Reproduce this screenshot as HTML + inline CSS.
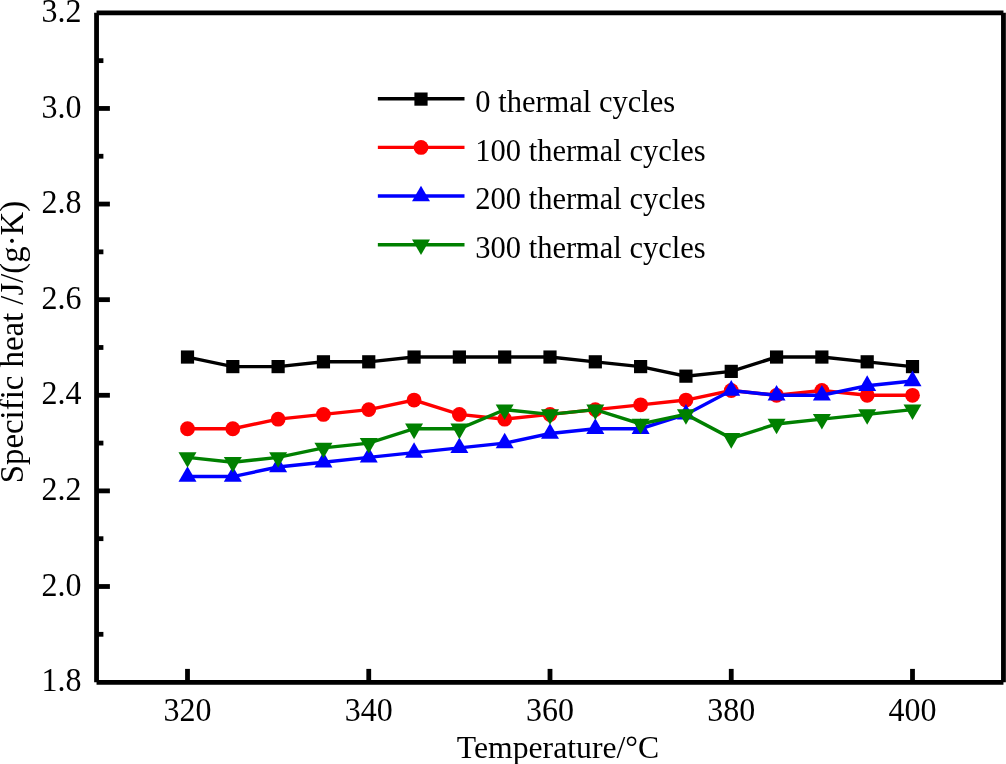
<!DOCTYPE html>
<html><head><meta charset="utf-8"><style>
html,body{margin:0;padding:0;background:#fff;}
svg{display:block;will-change:transform;}
text{font-family:"Liberation Serif",serif;font-size:32px;fill:#000;}
</style></head><body>
<svg width="1006" height="764" viewBox="0 0 1006 764">
<line x1="187.50" y1="682.3" x2="187.50" y2="668.9" stroke="#000" stroke-width="4.8"/>
<text transform="translate(187.50,720.7) scale(1,1.07)" text-anchor="middle">320</text>
<line x1="368.75" y1="682.3" x2="368.75" y2="668.9" stroke="#000" stroke-width="4.8"/>
<text transform="translate(368.75,720.7) scale(1,1.07)" text-anchor="middle">340</text>
<line x1="550.00" y1="682.3" x2="550.00" y2="668.9" stroke="#000" stroke-width="4.8"/>
<text transform="translate(550.00,720.7) scale(1,1.07)" text-anchor="middle">360</text>
<line x1="731.25" y1="682.3" x2="731.25" y2="668.9" stroke="#000" stroke-width="4.8"/>
<text transform="translate(731.25,720.7) scale(1,1.07)" text-anchor="middle">380</text>
<line x1="912.50" y1="682.3" x2="912.50" y2="668.9" stroke="#000" stroke-width="4.8"/>
<text transform="translate(912.50,720.7) scale(1,1.07)" text-anchor="middle">400</text>
<text transform="translate(81.6,691.31) scale(1,1.07)" text-anchor="end">1.8</text>
<line x1="96.55" y1="634.30" x2="103.4" y2="634.30" stroke="#000" stroke-width="4.8"/>
<line x1="96.55" y1="586.50" x2="109.9" y2="586.50" stroke="#000" stroke-width="4.8"/>
<text transform="translate(81.6,595.70) scale(1,1.07)" text-anchor="end">2.0</text>
<line x1="96.55" y1="538.69" x2="103.4" y2="538.69" stroke="#000" stroke-width="4.8"/>
<line x1="96.55" y1="490.89" x2="109.9" y2="490.89" stroke="#000" stroke-width="4.8"/>
<text transform="translate(81.6,500.09) scale(1,1.07)" text-anchor="end">2.2</text>
<line x1="96.55" y1="443.09" x2="103.4" y2="443.09" stroke="#000" stroke-width="4.8"/>
<line x1="96.55" y1="395.28" x2="109.9" y2="395.28" stroke="#000" stroke-width="4.8"/>
<text transform="translate(81.6,404.48) scale(1,1.07)" text-anchor="end">2.4</text>
<line x1="96.55" y1="347.48" x2="103.4" y2="347.48" stroke="#000" stroke-width="4.8"/>
<line x1="96.55" y1="299.67" x2="109.9" y2="299.67" stroke="#000" stroke-width="4.8"/>
<text transform="translate(81.6,308.87) scale(1,1.07)" text-anchor="end">2.6</text>
<line x1="96.55" y1="251.86" x2="103.4" y2="251.86" stroke="#000" stroke-width="4.8"/>
<line x1="96.55" y1="204.06" x2="109.9" y2="204.06" stroke="#000" stroke-width="4.8"/>
<text transform="translate(81.6,213.26) scale(1,1.07)" text-anchor="end">2.8</text>
<line x1="96.55" y1="156.25" x2="103.4" y2="156.25" stroke="#000" stroke-width="4.8"/>
<line x1="96.55" y1="108.45" x2="109.9" y2="108.45" stroke="#000" stroke-width="4.8"/>
<text transform="translate(81.6,117.65) scale(1,1.07)" text-anchor="end">3.0</text>
<line x1="96.55" y1="60.64" x2="103.4" y2="60.64" stroke="#000" stroke-width="4.8"/>
<text transform="translate(81.6,22.04) scale(1,1.07)" text-anchor="end">3.2</text>
<path d="M96.55 12.85H1003.45M96.55 682.3H1003.45M96.55 12.85V682.3M1003.45 12.85V682.3" fill="none" stroke="#000" stroke-width="4.8" stroke-linecap="butt"/>
<polyline points="187.50,357.04 232.81,366.60 278.12,366.60 323.44,361.82 368.75,361.82 414.06,357.04 459.38,357.04 504.69,357.04 550.00,357.04 595.31,361.82 640.62,366.60 685.94,376.16 731.25,371.38 776.56,357.04 821.88,357.04 867.19,361.82 912.50,366.60" fill="none" stroke="#000000" stroke-width="3.4" stroke-linejoin="miter"/>
<rect x="180.90" y="350.44" width="13.2" height="13.2" fill="#000000"/>
<rect x="226.21" y="360.00" width="13.2" height="13.2" fill="#000000"/>
<rect x="271.52" y="360.00" width="13.2" height="13.2" fill="#000000"/>
<rect x="316.84" y="355.22" width="13.2" height="13.2" fill="#000000"/>
<rect x="362.15" y="355.22" width="13.2" height="13.2" fill="#000000"/>
<rect x="407.46" y="350.44" width="13.2" height="13.2" fill="#000000"/>
<rect x="452.77" y="350.44" width="13.2" height="13.2" fill="#000000"/>
<rect x="498.09" y="350.44" width="13.2" height="13.2" fill="#000000"/>
<rect x="543.40" y="350.44" width="13.2" height="13.2" fill="#000000"/>
<rect x="588.71" y="355.22" width="13.2" height="13.2" fill="#000000"/>
<rect x="634.02" y="360.00" width="13.2" height="13.2" fill="#000000"/>
<rect x="679.34" y="369.56" width="13.2" height="13.2" fill="#000000"/>
<rect x="724.65" y="364.78" width="13.2" height="13.2" fill="#000000"/>
<rect x="769.96" y="350.44" width="13.2" height="13.2" fill="#000000"/>
<rect x="815.27" y="350.44" width="13.2" height="13.2" fill="#000000"/>
<rect x="860.59" y="355.22" width="13.2" height="13.2" fill="#000000"/>
<rect x="905.90" y="360.00" width="13.2" height="13.2" fill="#000000"/>
<polyline points="187.50,428.74 232.81,428.74 278.12,419.18 323.44,414.40 368.75,409.62 414.06,400.06 459.38,414.40 504.69,419.18 550.00,414.40 595.31,409.62 640.62,404.84 685.94,400.06 731.25,390.50 776.56,395.28 821.88,390.50 867.19,395.28 912.50,395.28" fill="none" stroke="#ff0000" stroke-width="3.4" stroke-linejoin="miter"/>
<circle cx="187.50" cy="428.74" r="7.4" fill="#ff0000"/>
<circle cx="232.81" cy="428.74" r="7.4" fill="#ff0000"/>
<circle cx="278.12" cy="419.18" r="7.4" fill="#ff0000"/>
<circle cx="323.44" cy="414.40" r="7.4" fill="#ff0000"/>
<circle cx="368.75" cy="409.62" r="7.4" fill="#ff0000"/>
<circle cx="414.06" cy="400.06" r="7.4" fill="#ff0000"/>
<circle cx="459.38" cy="414.40" r="7.4" fill="#ff0000"/>
<circle cx="504.69" cy="419.18" r="7.4" fill="#ff0000"/>
<circle cx="550.00" cy="414.40" r="7.4" fill="#ff0000"/>
<circle cx="595.31" cy="409.62" r="7.4" fill="#ff0000"/>
<circle cx="640.62" cy="404.84" r="7.4" fill="#ff0000"/>
<circle cx="685.94" cy="400.06" r="7.4" fill="#ff0000"/>
<circle cx="731.25" cy="390.50" r="7.4" fill="#ff0000"/>
<circle cx="776.56" cy="395.28" r="7.4" fill="#ff0000"/>
<circle cx="821.88" cy="390.50" r="7.4" fill="#ff0000"/>
<circle cx="867.19" cy="395.28" r="7.4" fill="#ff0000"/>
<circle cx="912.50" cy="395.28" r="7.4" fill="#ff0000"/>
<polyline points="187.50,476.55 232.81,476.55 278.12,466.99 323.44,462.21 368.75,457.43 414.06,452.65 459.38,447.87 504.69,443.09 550.00,433.52 595.31,428.74 640.62,428.74 685.94,414.40 731.25,390.50 776.56,395.28 821.88,395.28 867.19,385.72 912.50,380.94" fill="none" stroke="#0000ff" stroke-width="3.4" stroke-linejoin="miter"/>
<path d="M187.50 466.16L196.50 481.74L178.50 481.74Z" fill="#0000ff"/>
<path d="M232.81 466.16L241.81 481.74L223.81 481.74Z" fill="#0000ff"/>
<path d="M278.12 456.60L287.12 472.18L269.12 472.18Z" fill="#0000ff"/>
<path d="M323.44 451.81L332.44 467.40L314.44 467.40Z" fill="#0000ff"/>
<path d="M368.75 447.03L377.75 462.62L359.75 462.62Z" fill="#0000ff"/>
<path d="M414.06 442.25L423.06 457.84L405.06 457.84Z" fill="#0000ff"/>
<path d="M459.38 437.47L468.38 453.06L450.38 453.06Z" fill="#0000ff"/>
<path d="M504.69 432.69L513.69 448.28L495.69 448.28Z" fill="#0000ff"/>
<path d="M550.00 423.13L559.00 438.72L541.00 438.72Z" fill="#0000ff"/>
<path d="M595.31 418.35L604.31 433.94L586.31 433.94Z" fill="#0000ff"/>
<path d="M640.62 418.35L649.62 433.94L631.62 433.94Z" fill="#0000ff"/>
<path d="M685.94 404.01L694.94 419.60L676.94 419.60Z" fill="#0000ff"/>
<path d="M731.25 380.11L740.25 395.70L722.25 395.70Z" fill="#0000ff"/>
<path d="M776.56 384.89L785.56 400.48L767.56 400.48Z" fill="#0000ff"/>
<path d="M821.88 384.89L830.88 400.48L812.88 400.48Z" fill="#0000ff"/>
<path d="M867.19 375.33L876.19 390.92L858.19 390.92Z" fill="#0000ff"/>
<path d="M912.50 370.55L921.50 386.13L903.50 386.13Z" fill="#0000ff"/>
<polyline points="187.50,457.43 232.81,462.21 278.12,457.43 323.44,447.87 368.75,443.09 414.06,428.74 459.38,428.74 504.69,409.62 550.00,414.40 595.31,409.62 640.62,423.96 685.94,414.40 731.25,438.30 776.56,423.96 821.88,419.18 867.19,414.40 912.50,409.62" fill="none" stroke="#008000" stroke-width="3.4" stroke-linejoin="miter"/>
<path d="M187.50 467.82L196.50 452.23L178.50 452.23Z" fill="#008000"/>
<path d="M232.81 472.60L241.81 457.01L223.81 457.01Z" fill="#008000"/>
<path d="M278.12 467.82L287.12 452.23L269.12 452.23Z" fill="#008000"/>
<path d="M323.44 458.26L332.44 442.67L314.44 442.67Z" fill="#008000"/>
<path d="M368.75 453.48L377.75 437.89L359.75 437.89Z" fill="#008000"/>
<path d="M414.06 439.14L423.06 423.55L405.06 423.55Z" fill="#008000"/>
<path d="M459.38 439.14L468.38 423.55L450.38 423.55Z" fill="#008000"/>
<path d="M504.69 420.01L513.69 404.43L495.69 404.43Z" fill="#008000"/>
<path d="M550.00 424.79L559.00 409.21L541.00 409.21Z" fill="#008000"/>
<path d="M595.31 420.01L604.31 404.43L586.31 404.43Z" fill="#008000"/>
<path d="M640.62 434.36L649.62 418.77L631.62 418.77Z" fill="#008000"/>
<path d="M685.94 424.79L694.94 409.21L676.94 409.21Z" fill="#008000"/>
<path d="M731.25 448.70L740.25 433.11L722.25 433.11Z" fill="#008000"/>
<path d="M776.56 434.36L785.56 418.77L767.56 418.77Z" fill="#008000"/>
<path d="M821.88 429.57L830.88 413.99L812.88 413.99Z" fill="#008000"/>
<path d="M867.19 424.79L876.19 409.21L858.19 409.21Z" fill="#008000"/>
<path d="M912.50 420.01L921.50 404.43L903.50 404.43Z" fill="#008000"/>
<line x1="377.85" y1="98.75" x2="464.5" y2="98.75" stroke="#000000" stroke-width="3.4"/>
<rect x="414.40" y="92.50" width="13.2" height="13.2" fill="#000000"/>
<text x="475.3" y="111.85" style="font-size:30.5px">0 thermal cycles</text>
<line x1="377.85" y1="147.4" x2="464.5" y2="147.4" stroke="#ff0000" stroke-width="3.4"/>
<circle cx="421.00" cy="147.40" r="7.4" fill="#ff0000"/>
<text x="475.3" y="160.50" style="font-size:30.5px">100 thermal cycles</text>
<line x1="377.85" y1="196.05" x2="464.5" y2="196.05" stroke="#0000ff" stroke-width="3.4"/>
<path d="M421.00 185.66L430.00 201.25L412.00 201.25Z" fill="#0000ff"/>
<text x="475.3" y="209.15" style="font-size:30.5px">200 thermal cycles</text>
<line x1="377.85" y1="244.7" x2="464.5" y2="244.7" stroke="#008000" stroke-width="3.4"/>
<path d="M421.00 255.09L430.00 239.50L412.00 239.50Z" fill="#008000"/>
<text x="475.3" y="257.80" style="font-size:30.5px">300 thermal cycles</text>
<text x="558" y="757.7" text-anchor="middle" style="font-size:31.7px">Temperature/°C</text>
<text transform="translate(23.4,342) rotate(-90)" text-anchor="middle" style="font-size:32.8px">Specific heat /J/(g·K)</text>
</svg>
</body></html>
